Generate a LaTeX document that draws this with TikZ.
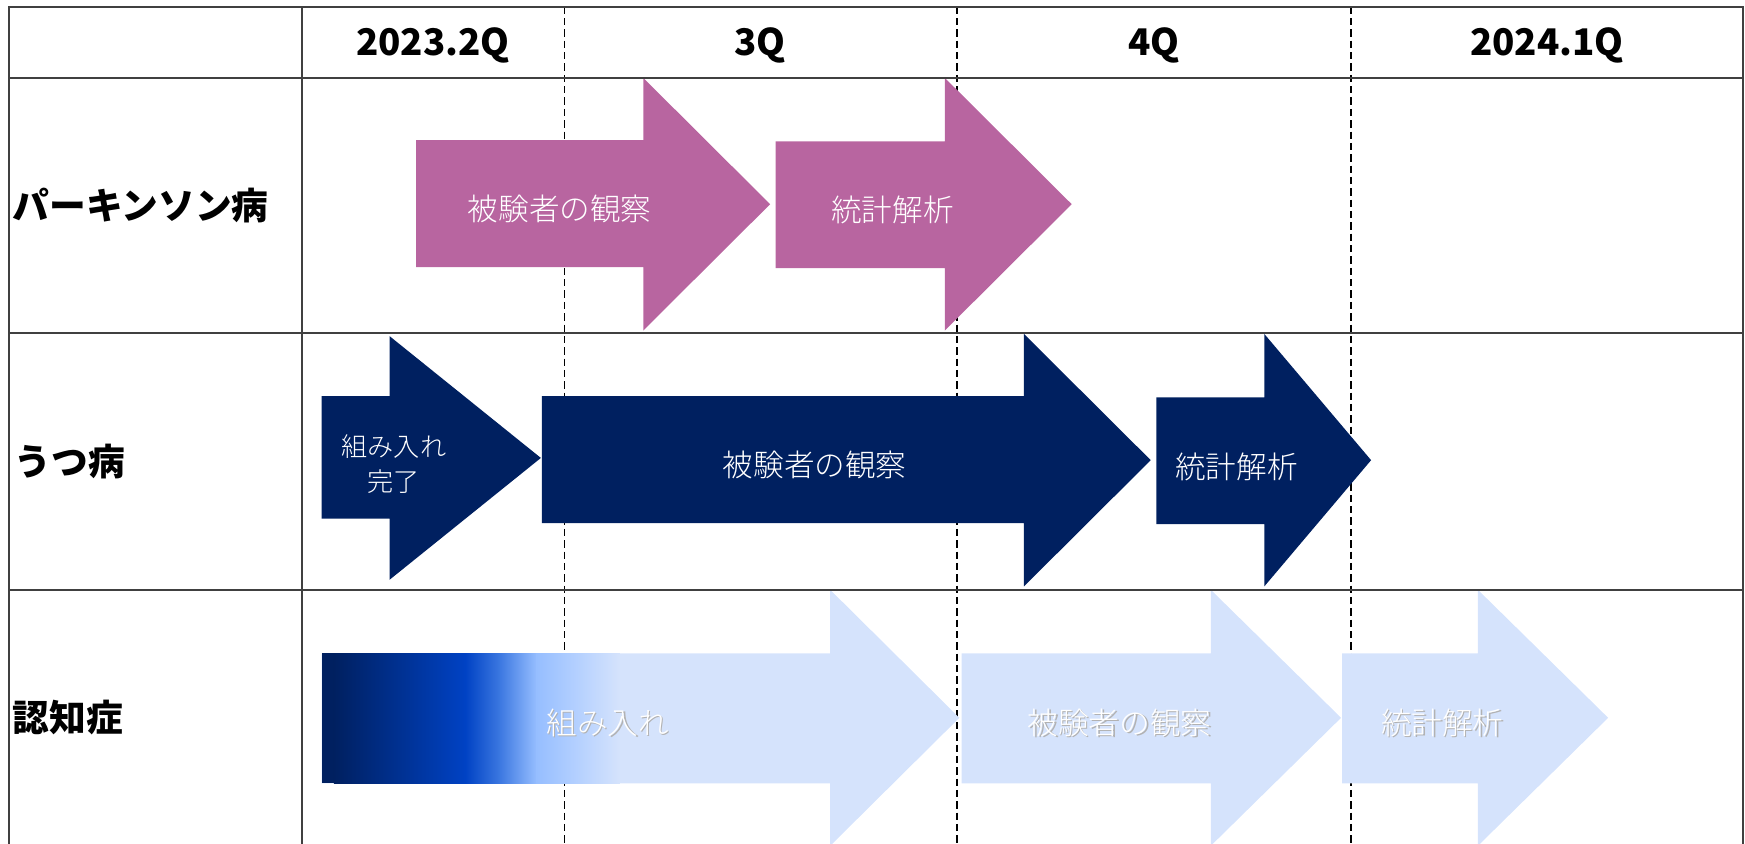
\documentclass[tikz,border=0pt]{standalone}
\usepackage{fontspec}
\setmainfont{Noto Sans CJK JP}
\IfFontExistsTF{Noto Sans CJK JP Light}
  {\newfontfamily\barfont{Noto Sans CJK JP Light}}
  {\newfontfamily\barfont{Noto Sans CJK JP}}

\definecolor{pinkbar}{RGB}{184,101,160}
\definecolor{navybar}{RGB}{0,32,96}
\definecolor{skybar}{RGB}{213,227,252}
\definecolor{bluemid}{RGB}{0,66,196}
\definecolor{bluelt}{RGB}{60,120,225}
\definecolor{bluepale}{RGB}{150,190,255}
\definecolor{bluefog}{RGB}{175,205,255}
\definecolor{gridgray}{RGB}{64,64,64}

% arrow: style, left, head base, tip, body top, body bottom, head top, head bottom
\newcommand{\planarrow}[8]{%
\fill[#1] (#2,#5) -- (#3,#5) -- (#3,#7) -- (#4,{(#7+#8)/2}) -- (#3,#8) -- (#3,#6) -- (#2,#6) -- cycle;}
% white text with a soft shadow
\newcommand{\shadetext}[1]{\makebox[0pt][l]{\hspace{0.7pt}\raisebox{-0.7pt}{\textcolor{black!30}{#1}}}#1}

\tikzset{
gridline/.style={draw=gridgray,line width=0.9pt},
qline/.style={draw=black,line width=0.6pt,dash pattern=on 3.3pt off 1.8pt},
headtxt/.style={font=\bfseries\fontsize{16.5}{20}\selectfont,inner sep=0,anchor=base},
rowtxt/.style={font=\bfseries\fontsize{16.5}{20}\selectfont,inner sep=0,anchor=west},
bartxt/.style={text=white,font=\barfont\fontsize{13.75}{16}\selectfont,inner sep=0},
}

\begin{document}
\begin{tikzpicture}[x=0.5pt,y=-0.5pt]
\useasboundingbox (0,0) rectangle (1568,758);

% quarter borders
\foreach \qx in {507,860,1214}
  \draw[qline] (\qx,6) -- (\qx,760);

% Parkinson
\planarrow{pinkbar}{374}{578}{692}{126}{240}{70}{297}
\planarrow{pinkbar}{697}{849}{963}{127}{241}{70}{297}
% depression
\planarrow{navybar}{289}{350}{486}{356}{466}{302}{521}
\planarrow{navybar}{487}{920}{1034}{356}{470}{300}{527}
\planarrow{navybar}{1039}{1136}{1232}{357}{471}{300}{527}
% dementia
\planarrow{skybar}{289}{746}{862}{587}{704}{530}{760}
\planarrow{skybar}{864}{1088}{1205}{587}{704}{530}{760}
\planarrow{skybar}{1206}{1328}{1445}{587}{704}{530}{760}
\fill[navybar] (289,587) rectangle (301,704);
\shade[left color=navybar,right color=bluemid] (300,587) rectangle (418.5,704);
\shade[left color=bluemid,right color=bluelt] (418,587) rectangle (449.5,704);
\shade[left color=bluelt,right color=bluepale] (449,587) rectangle (482.5,704);
\shade[left color=bluepale,right color=bluefog] (482,587) rectangle (512.5,704);
\shade[left color=bluefog,right color=skybar] (512,587) rectangle (557,704);

% table
\draw[gridline] (8,760) -- (8,6) -- (1566,6) -- (1566,760);
\draw[gridline] (271,6) -- (271,760);
\draw[gridline] (8,70) -- (1566,70);
\draw[gridline] (8,299) -- (1566,299);
\draw[gridline] (8,530) -- (1566,530);

% header
\node[headtxt] (h2q) at (389,49.5) {2023.2Q};
\node[headtxt] (h3q) at (683,49.5) {3Q};
\node[headtxt] (h4q) at (1037,49.5) {4Q};
\node[headtxt] (h1q) at (1390,49.5) {2024.1Q};

% rows
\node[rowtxt] (rowpd) at (11,185) {パーキンソン病};
\node[rowtxt] (rowdep) at (13,415) {うつ病};
\node[rowtxt] (rowdem) at (11,645) {認知症};

% bar texts
\node[bartxt] (pdobs) at (503,188) {被験者の観察};
\node[bartxt] (pdstat) at (802,189) {統計解析};
\node[bartxt,align=center,font=\barfont\fontsize{11.75}{15.5}\selectfont] (depinc) at (354,417) {組み入れ\\完了};
\node[bartxt] (depobs) at (732,418) {被験者の観察};
\node[bartxt] (depstat) at (1111,420) {統計解析};
\node[bartxt] (deminc) at (546,650) {\shadetext{組み入れ}};
\node[bartxt] (demobs) at (1006,650) {\shadetext{被験者の観察}};
\node[bartxt] (demstat) at (1296,650) {\shadetext{統計解析}};
\end{tikzpicture}
\end{document}
